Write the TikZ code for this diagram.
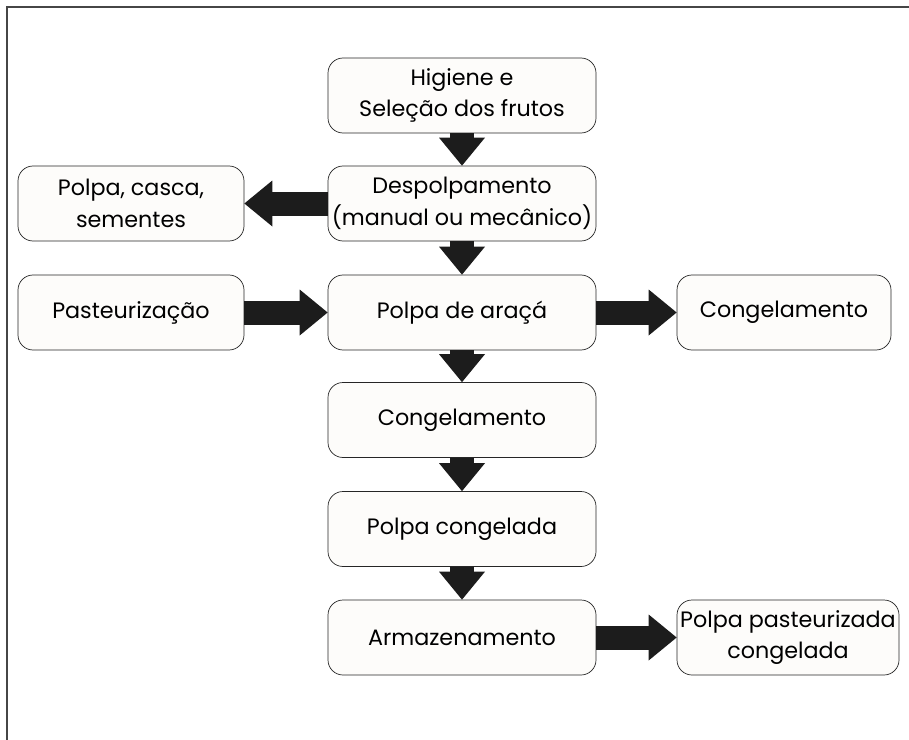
\documentclass[tikz,border=0pt]{standalone}
\usepackage{fontspec}
\setmainfont{Poppins}
\usepackage{xcolor}
\usetikzlibrary{arrows.meta,positioning}
\definecolor{boxfill}{RGB}{253,252,250}
\definecolor{arrowdark}{RGB}{28,28,28}
\definecolor{framegray}{RGB}{70,70,70}

\begin{document}
\begin{tikzpicture}[
    stage/.style={draw=black!85, line width=0.6pt, fill=boxfill, rounded corners=0.45cm, minimum width=8.04cm, minimum height=2.25cm, align=center, inner sep=0pt, font=\fontsize{19}{27}\selectfont},
    side/.style={stage, minimum width=6.78cm},
    flow/.style={draw=arrowdark, line width=0.72cm, -{Triangle[length=0.84cm, width=1.38cm, line width=0pt]}}
]
\useasboundingbox (0,0) rectangle (27.27,-22.2);
\draw[framegray, line width=1.6pt] (27.27,-0.21) -- (0.21,-0.21) -- (0.21,-22.2);

\node[stage] (hig) at (13.86,-2.865) {Higiene e\\Seleção dos frutos};
\node[stage] (desp) at (13.86,-6.105) {Despolpamento\\(manual ou mecânico)};
\node[side] (resid) at (3.93,-6.105) {Polpa, casca,\\sementes};
\node[side] (past) at (3.93,-9.375) {Pasteurização};
\node[stage] (polpa) at (13.86,-9.375) {Polpa de araçá};
\node[side, minimum width=6.42cm] (cong2) at (23.52,-9.375) {Congelamento};
\node[stage] (cong) at (13.86,-12.6) {Congelamento};
\node[stage] (pcong) at (13.86,-15.87) {Polpa congelada};
\node[stage] (arm) at (13.86,-19.125) {Armazenamento};
\node[side, minimum width=6.66cm] (final) at (23.64,-19.125) {Polpa pasteurizada\\congelada};

\draw[flow] (hig) -- (desp);
\draw[flow] (desp) -- (resid);
\draw[flow] (desp) -- (polpa);
\draw[flow] (past) -- (polpa);
\draw[flow] (polpa) -- (cong2);
\draw[flow] (polpa) -- (cong);
\draw[flow] (cong) -- (pcong);
\draw[flow] (pcong) -- (arm);
\draw[flow] (arm) -- (final);
\end{tikzpicture}
\end{document}
